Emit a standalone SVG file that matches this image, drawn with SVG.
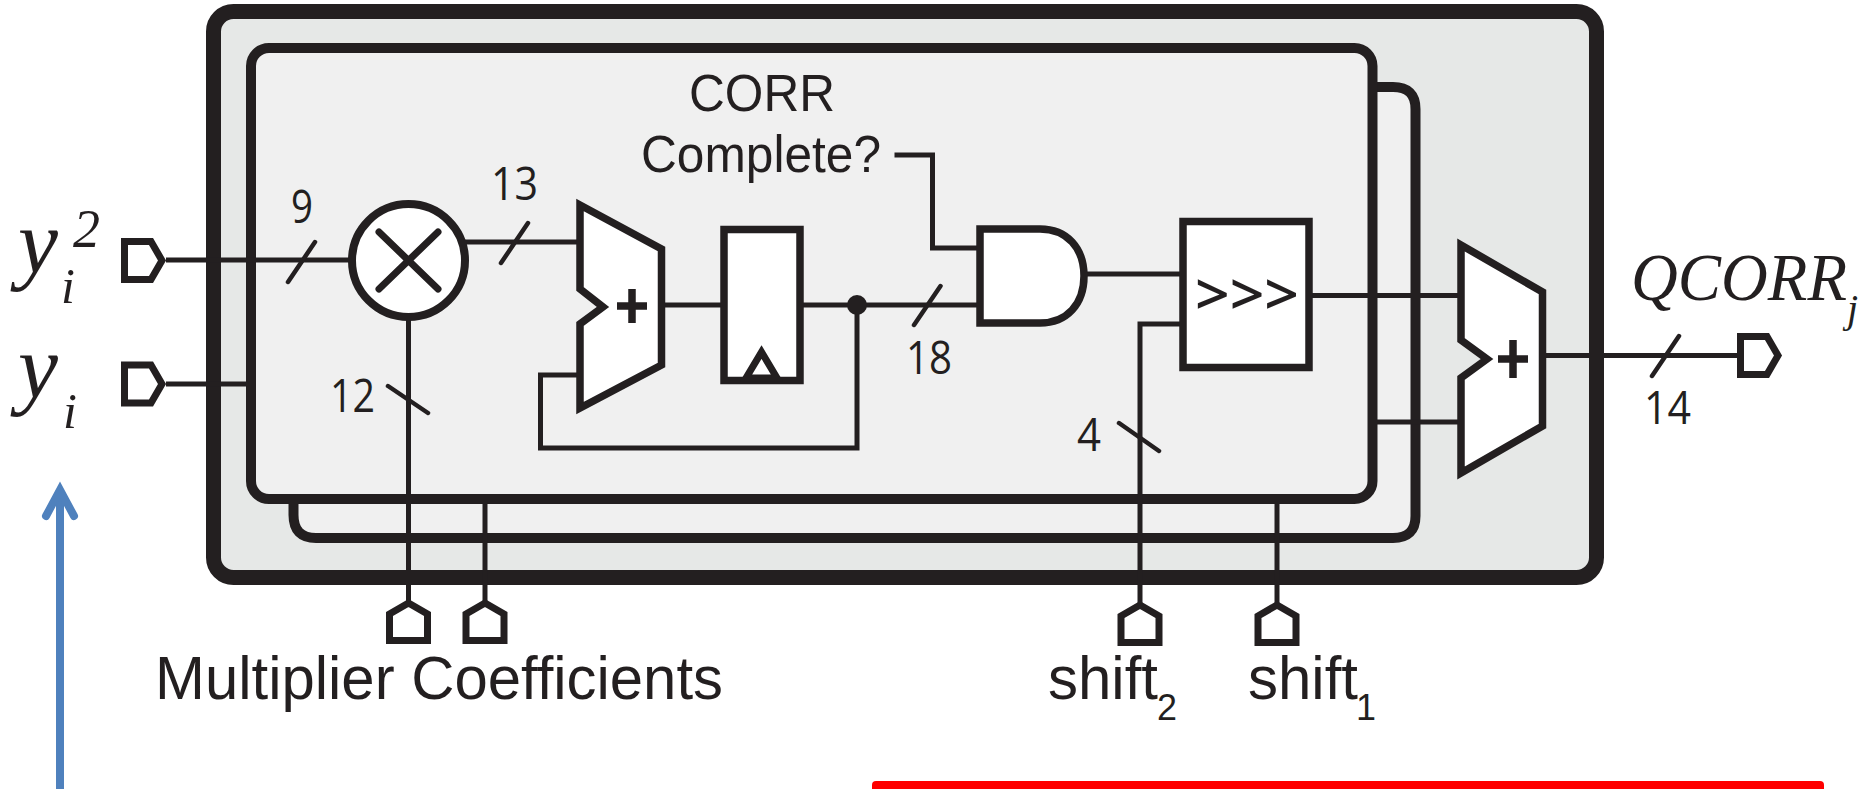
<svg xmlns="http://www.w3.org/2000/svg" width="1870" height="789" viewBox="0 0 1870 789">
<style>
.w{fill:none;stroke:#231f20;stroke-width:5;stroke-linejoin:miter}
.s{fill:none;stroke:#231f20;stroke-width:4.5;stroke-linecap:round}
.b{fill:#fff;stroke:#231f20;stroke-width:7.5;stroke-linejoin:miter}
.p{fill:#fff;stroke:#231f20;stroke-width:7;stroke-linejoin:miter}
.t{fill:#231f20;font-family:"Liberation Sans",Arial,sans-serif}
.n{fill:#231f20;font-family:"Open Sans",sans-serif;font-size:46px}
.m{fill:#231f20;font-family:"Liberation Serif","Times New Roman",serif;font-style:italic}
</style>
<defs>
<polygon id="port" points="3.5,-19 30,-19 41,0 30,19 3.5,19"/>
</defs>
<rect width="1870" height="789" fill="#fff"/>
<g id="outer-box"><rect x="213.5" y="11.5" width="1383" height="566" rx="20" fill="#e6e8e7" stroke="#231f20" stroke-width="15"/></g>
<g id="back-box"><path d="M1350 87H1393Q1415.500 87 1415.500 109V516Q1415.500 538 1393 538H316Q293.500 538 293.500 515V480H1350Z" fill="#f0f0f0" stroke="#231f20" stroke-width="10"/></g>
<g id="inner-box"><rect x="251" y="48" width="1121.500" height="451" rx="18" fill="#f0f0f0" stroke="#231f20" stroke-width="10"/></g>
<g id="connectors">
<path class="w" d="M166 260H350"/>
<path class="w" d="M166 384H248"/>
<path class="w" d="M408.500 320V602"/>
<path class="w" d="M465 242H580"/>
<path class="w" d="M665 305H722"/>
<path class="w" d="M802 305H978"/>
<path class="w" d="M857 305V448H540.500V375H580"/>
<path class="w" d="M894.500 155H932.500V248H978"/>
<path class="w" d="M1086 274H1181"/>
<path class="w" d="M1181 324H1140V604"/>
<path class="w" d="M1311 295.500H1460"/>
<path class="w" d="M1376 422H1460"/>
<path class="w" d="M485 504V602"/>
<path class="w" d="M1277 504V604"/>
<path class="w" d="M1546 355.500H1739"/>
<circle cx="857" cy="305" r="10" fill="#231f20"/>
<path class="s" d="M315 242L288 282M528 223L501 263M388 386L428 413M940.500 286L914 325M1119 423L1159 451M1679 336L1652 376"/>
</g>
<g id="port-y2"><use href="#port" class="p" transform="translate(121 260.500)"/></g>
<g id="port-y"><use href="#port" class="p" transform="translate(121 384)"/></g>
<g id="port-coef1"><use href="#port" class="p" transform="translate(408.500 644) rotate(-90)"/></g>
<g id="port-coef2"><use href="#port" class="p" transform="translate(485 644) rotate(-90)"/></g>
<g id="port-shift2"><use href="#port" class="p" transform="translate(1140 646) rotate(-90)"/></g>
<g id="port-shift1"><use href="#port" class="p" transform="translate(1277 646) rotate(-90)"/></g>
<g id="port-out"><use href="#port" class="p" transform="translate(1737 355.500)"/></g>
<g id="multiplier">
<circle cx="408.500" cy="260.500" r="56.500" fill="#fff" stroke="#231f20" stroke-width="8"/>
<path d="M379 232L438 289M438 232L379 289" fill="none" stroke="#231f20" stroke-width="7" stroke-linecap="round"/>
</g>
<g id="adder1">
<polygon class="b" points="580,205 661.500,249 661.500,365 580,408 580,324 603,307 580,289"/>
<path d="M617 306H647M632 289V323" stroke="#231f20" stroke-width="7.500" fill="none"/>
</g>
<g id="register">
<rect class="b" x="724" y="229.500" width="76" height="151"/>
<polygon points="746,378 761.500,352 777,378" fill="#fff" stroke="#231f20" stroke-width="7"/>
</g>
<g id="and-gate"><path class="b" d="M980 229H1040C1067 229 1084 248 1084 276C1084 304 1067 323 1040 323H980Z"/></g>
<g id="shifter">
<rect class="b" x="1183" y="221.500" width="126" height="146"/>
<text x="1195" y="315" font-family="Open Sans,sans-serif" font-weight="600" font-size="58" fill="#231f20" textLength="104" lengthAdjust="spacingAndGlyphs">&gt;&gt;&gt;</text>
</g>
<g id="adder2">
<polygon class="b" points="1461,245 1542.500,292 1542.500,426 1461,473 1461,378 1487,359 1461,340"/>
<path d="M1498 359H1528M1513 340V378" stroke="#231f20" stroke-width="7.500" fill="none"/>
</g>
<g id="labels">
<text class="m" x="18" y="273" font-size="90">y</text>
<text class="m" x="61" y="303" font-size="50">i</text>
<text class="m" x="73" y="247" font-size="54">2</text>
<text class="m" x="18" y="398" font-size="90">y</text>
<text class="m" x="63" y="428" font-size="50">i</text>
<text class="m" x="1631" y="300" font-size="67" textLength="216" lengthAdjust="spacingAndGlyphs">QCORR</text>
<text class="m" x="1847" y="322" font-size="40">j</text>
<text class="n" x="291" y="223" textLength="22" lengthAdjust="spacingAndGlyphs">9</text>
<text class="n" x="491" y="200" textLength="47" lengthAdjust="spacingAndGlyphs">13</text>
<text class="n" x="330" y="412" textLength="45" lengthAdjust="spacingAndGlyphs">12</text>
<text class="n" x="906" y="374" textLength="46" lengthAdjust="spacingAndGlyphs">18</text>
<text class="n" x="1077" y="451" textLength="24" lengthAdjust="spacingAndGlyphs">4</text>
<text class="n" x="1644" y="424" textLength="47" lengthAdjust="spacingAndGlyphs">14</text>
<text class="t" x="689" y="111" font-size="52" textLength="146" lengthAdjust="spacingAndGlyphs">CORR</text>
<text class="t" x="641" y="172" font-size="52" textLength="240" lengthAdjust="spacingAndGlyphs">Complete?</text>
<text class="t" x="155" y="699" font-size="62" textLength="568" lengthAdjust="spacingAndGlyphs">Multiplier Coefficients</text>
<text class="t" x="1048" y="699" font-size="62" textLength="110" lengthAdjust="spacingAndGlyphs">shift</text>
<text class="t" x="1157" y="720" font-size="36" textLength="20" lengthAdjust="spacingAndGlyphs">2</text>
<text class="t" x="1248" y="699" font-size="62" textLength="110" lengthAdjust="spacingAndGlyphs">shift</text>
<text class="t" x="1356" y="720" font-size="36" textLength="20" lengthAdjust="spacingAndGlyphs">1</text>
</g>
<g id="blue-arrow" fill="none" stroke="#4f81bd" stroke-width="8">
<path d="M60 789V494"/>
<path d="M46 516L60 490L74 516" stroke-linecap="round" stroke-miterlimit="10"/>
</g>
<g id="red-bar"><rect x="872" y="781" width="952" height="14" rx="4" fill="#f00"/></g>
</svg>
